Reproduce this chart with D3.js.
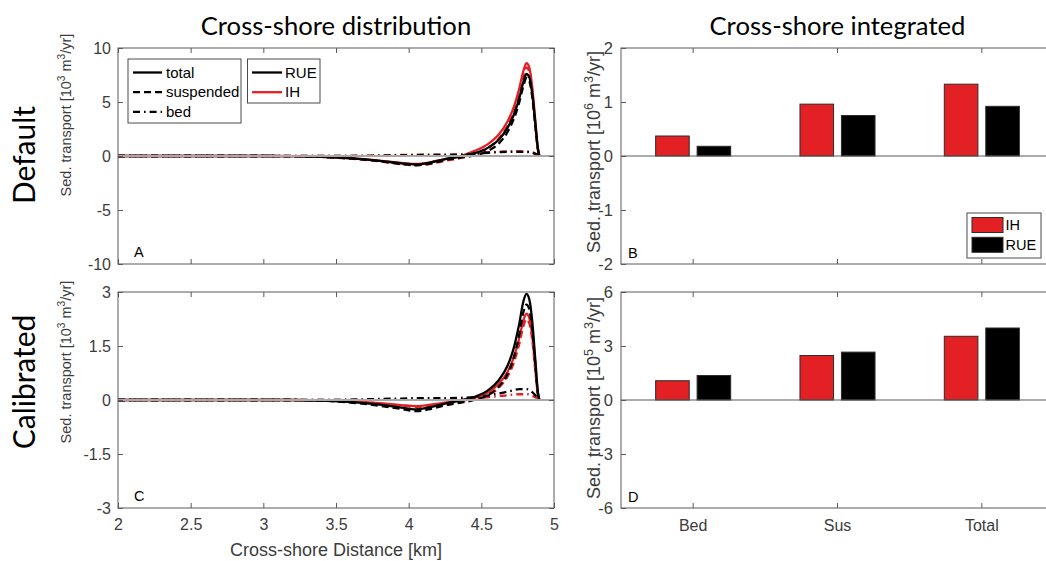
<!DOCTYPE html>
<html>
<head>
<meta charset="utf-8">
<script src="https://cdn.jsdelivr.net/npm/d3@7"></script>
<style>
  body { margin: 0; background: #fff; }
  svg { display: block; }
</style>
</head>
<body>
<svg id="fig" width="1046" height="561"></svg>
<script>
// ---- cross-shore profiles (10^3 m^3/yr per position) ----
const distanceKm = [2.0, 2.5, 3.0, 3.2, 3.4, 3.6, 3.8, 3.95, 4.05, 4.15, 4.25, 4.35, 4.45, 4.55, 4.62, 4.68, 4.72, 4.76, 4.79, 4.81, 4.83, 4.85, 4.87, 4.89, 4.9];

const defaultTotalRUE = [0, 0, 0, -0.01, -0.08, -0.22, -0.45, -0.68, -0.78, -0.6, -0.28, -0.05, 0.25, 0.8, 1.5, 2.6, 3.7, 5.3, 6.9, 7.6, 7.3, 5.8, 3.2, 0.6, 0];
const defaultSusRUE   = [0, 0, 0, -0.01, -0.08, -0.22, -0.48, -0.74, -0.86, -0.7, -0.38, -0.17, 0.05, 0.5, 1.15, 2.22, 3.32, 4.92, 6.52, 7.23, 6.95, 5.5, 3.0, 0.55, 0];
const defaultBedRUE   = [0, 0, 0, 0, 0, 0, 0.03, 0.06, 0.08, 0.1, 0.1, 0.12, 0.2, 0.3, 0.35, 0.38, 0.38, 0.38, 0.38, 0.37, 0.35, 0.3, 0.2, 0.05, 0];
const defaultTotalIH  = [0, 0, 0, -0.01, -0.08, -0.2, -0.42, -0.64, -0.74, -0.58, -0.3, -0.05, 0.45, 1.15, 2.0, 3.2, 4.4, 6.2, 7.9, 8.6, 8.2, 6.4, 3.5, 0.6, 0];
const defaultSusIH    = [0, 0, 0, -0.01, -0.09, -0.25, -0.5, -0.76, -0.85, -0.72, -0.45, -0.2, 0.2, 0.75, 1.6, 2.8, 4.0, 5.8, 7.5, 8.2, 7.8, 6.05, 3.25, 0.5, 0];
const defaultBedIH    = [0, 0, 0, 0, 0, 0.02, 0.06, 0.1, 0.12, 0.12, 0.13, 0.15, 0.24, 0.35, 0.4, 0.43, 0.44, 0.44, 0.43, 0.42, 0.4, 0.35, 0.25, 0.08, 0];

const calibTotalRUE = [0, 0, 0, 0, -0.02, -0.06, -0.13, -0.21, -0.26, -0.2, -0.1, -0.02, 0.08, 0.28, 0.55, 0.95, 1.4, 2.1, 2.75, 2.95, 2.8, 2.2, 1.2, 0.2, 0];
const calibSusRUE   = [0, 0, 0, 0, -0.02, -0.07, -0.16, -0.25, -0.31, -0.25, -0.15, -0.08, 0.0, 0.15, 0.37, 0.72, 1.13, 1.8, 2.45, 2.65, 2.52, 1.98, 1.06, 0.16, 0];
const calibBedRUE   = [0, 0, 0, 0, 0, 0.01, 0.03, 0.04, 0.05, 0.05, 0.05, 0.06, 0.08, 0.13, 0.18, 0.23, 0.27, 0.3, 0.3, 0.3, 0.28, 0.22, 0.14, 0.04, 0];
const calibTotalIH  = [0, 0, 0, 0, -0.01, -0.04, -0.09, -0.14, -0.17, -0.13, -0.07, -0.01, 0.06, 0.22, 0.45, 0.78, 1.15, 1.7, 2.22, 2.4, 2.28, 1.8, 0.95, 0.15, 0];
const calibSusIH    = [0, 0, 0, 0, -0.01, -0.04, -0.1, -0.16, -0.19, -0.16, -0.1, -0.05, 0.01, 0.14, 0.34, 0.65, 1.0, 1.54, 2.06, 2.24, 2.13, 1.68, 0.87, 0.13, 0];
const calibBedIH    = [0, 0, 0, 0, 0, 0, 0.01, 0.02, 0.02, 0.03, 0.03, 0.04, 0.05, 0.08, 0.11, 0.13, 0.15, 0.16, 0.16, 0.16, 0.15, 0.12, 0.08, 0.02, 0];

// ---- cross-shore integrated totals ----
const categories = ["Bed", "Sus", "Total"];
const models = ["IH", "RUE"];
const defaultIntIH  = [0.37, 0.96, 1.33];   // 10^6 m^3/yr
const defaultIntRUE = [0.18, 0.75, 0.92];
const calibIntIH    = [1.07, 2.47, 3.54];   // 10^5 m^3/yr
const calibIntRUE   = [1.36, 2.66, 4.0];

// ---- tick labels ----
const distanceTicks = [2, 2.5, 3, 3.5, 4, 4.5, 5];
const defaultProfileTicks = [-10, -5, 0, 5, 10];
const calibProfileTicks = [-3, -1.5, 0, 1.5, 3];
const defaultIntTicks = [-2, -1, 0, 1, 2];
const calibIntTicks = [-6, -3, 0, 3, 6];

const RED = "#e32124";
const BLACK = "#000000";
const AXIS = "#5a5a5a";
const TEXT = "#3c3c3c";
const SANS = "'Liberation Sans', Arial, sans-serif";
const TITLE_FONT = "Lato, 'Open Sans', sans-serif";

const svg = d3.select("#fig");

const L = { x0: 118, x1: 554 };
const R = { x0: 621, x1: 1054 };
const ROW1 = { y0: 48, y1: 264 };
const ROW2 = { y0: 292, y1: 508 };

function frame(g, x0, x1, y0, y1) {
  g.append("rect").attr("x", x0).attr("y", y0)
    .attr("width", x1 - x0).attr("height", y1 - y0)
    .attr("fill", "none").attr("stroke", AXIS).attr("stroke-width", 1);
}

function styleAxis(sel, showText, size) {
  sel.select(".domain").remove();
  sel.selectAll(".tick line").attr("stroke", AXIS);
  sel.selectAll(".tick text")
    .attr("fill", TEXT).attr("font-family", SANS).attr("font-size", size || 16)
    .style("display", showText ? null : "none");
}

function yTickFormat(v) { return String(v); }

function profilePanel(rowBox, domainY, yTicks, seriesList, letter, showXLabels) {
  const g = svg.append("g");
  const x = d3.scaleLinear().domain([2, 5]).range([L.x0, L.x1]);
  const y = d3.scaleLinear().domain(domainY).range([rowBox.y1, rowBox.y0]);

  const line = d3.line()
    .x((d, i) => x(distanceKm[i]))
    .y(d => y(d))
    .curve(d3.curveMonotoneX);

  seriesList.forEach(s => {
    g.append("path").datum(s.values)
      .attr("d", line)
      .attr("fill", "none")
      .attr("stroke", s.color)
      .attr("stroke-width", 2.3)
      .attr("stroke-dasharray", s.dash)
      .attr("stroke-linejoin", "round");
  });

  // zero reference line
  g.append("line")
    .attr("x1", x(2)).attr("x2", x(5))
    .attr("y1", y(0)).attr("y2", y(0))
    .attr("stroke", "#a8a8a8").attr("stroke-width", 1.8);

  const ax = (gen, tx, ty, show, size) => {
    const a = g.append("g").attr("transform", `translate(${tx},${ty})`).call(gen);
    styleAxis(a, show, size);
    return a;
  };
  ax(d3.axisLeft(y).tickValues(yTicks).tickFormat(yTickFormat).tickSizeInner(-5).tickSizeOuter(0).tickPadding(7), L.x0, 0, true);
  ax(d3.axisRight(y).tickValues(yTicks).tickSizeInner(-5).tickSizeOuter(0), L.x1, 0, false);
  ax(d3.axisBottom(x).tickValues(distanceTicks).tickFormat(d3.format("")).tickSizeInner(-5).tickSizeOuter(0).tickPadding(11), 0, rowBox.y1, showXLabels);
  ax(d3.axisTop(x).tickValues(distanceTicks).tickSizeInner(-5).tickSizeOuter(0), 0, rowBox.y0, false);
  frame(g, L.x0, L.x1, rowBox.y0, rowBox.y1);

  g.append("text").attr("x", L.x0 + 16).attr("y", rowBox.y1 - 7)
    .attr("font-family", SANS).attr("font-size", 14.5).attr("fill", "#000")
    .text(letter);
  return g;
}

function barPanel(rowBox, domainY, yTicks, ihVals, rueVals, letter, showCats) {
  const g = svg.append("g");
  const x = d3.scaleBand().domain(categories).range([R.x0, R.x1]).padding(0);
  const bw = x.bandwidth();
  const xs = d3.scaleBand().domain(models).range([bw * 0.24, bw * 0.76]).paddingInner(0.19);
  const y = d3.scaleLinear().domain(domainY).range([rowBox.y1, rowBox.y0]);

  const rows = categories.map((c, i) => ({ cat: c, IH: ihVals[i], RUE: rueVals[i] }));
  const colors = { IH: RED, RUE: BLACK };

  rows.forEach(r => {
    models.forEach(m => {
      const v = r[m];
      g.append("rect")
        .attr("x", x(r.cat) + xs(m))
        .attr("width", xs.bandwidth())
        .attr("y", y(Math.max(0, v)))
        .attr("height", Math.abs(y(v) - y(0)))
        .attr("fill", colors[m])
        .attr("stroke", "#2b2b2b").attr("stroke-width", 1);
    });
  });

  // baseline
  g.append("line").attr("x1", R.x0).attr("x2", R.x1)
    .attr("y1", y(0)).attr("y2", y(0))
    .attr("stroke", AXIS).attr("stroke-width", 1.2);

  const ax = (gen, tx, ty, show, size) => {
    const a = g.append("g").attr("transform", `translate(${tx},${ty})`).call(gen);
    styleAxis(a, show, size);
    return a;
  };
  ax(d3.axisLeft(y).tickValues(yTicks).tickFormat(yTickFormat).tickSizeInner(-5).tickSizeOuter(0).tickPadding(8), R.x0, 0, true, 16.5);
  ax(d3.axisBottom(x).tickSizeInner(-5).tickSizeOuter(0).tickPadding(12), 0, rowBox.y1, showCats, 16);
  ax(d3.axisTop(x).tickSizeInner(-5).tickSizeOuter(0), 0, rowBox.y0, false);
  frame(g, R.x0, R.x1, rowBox.y0, rowBox.y1);

  g.append("text").attr("x", R.x0 + 7).attr("y", rowBox.y1 - 6)
    .attr("font-family", SANS).attr("font-size", 14.5).attr("fill", "#000")
    .text(letter);
  return { g, y };
}

const dashSolid = null, dashSus = "7,4", dashBed = "7,4,1.6,4";

profilePanel(ROW1, [-10, 10], defaultProfileTicks, [
  { values: defaultBedIH, color: RED, dash: dashBed },
  { values: defaultSusIH, color: RED, dash: dashSus },
  { values: defaultTotalIH, color: RED, dash: dashSolid },
  { values: defaultBedRUE, color: BLACK, dash: dashBed },
  { values: defaultSusRUE, color: BLACK, dash: dashSus },
  { values: defaultTotalRUE, color: BLACK, dash: dashSolid }
], "A", false);

profilePanel(ROW2, [-3, 3], calibProfileTicks, [
  { values: calibBedIH, color: RED, dash: dashBed },
  { values: calibSusIH, color: RED, dash: dashSus },
  { values: calibTotalIH, color: RED, dash: dashSolid },
  { values: calibBedRUE, color: BLACK, dash: dashBed },
  { values: calibSusRUE, color: BLACK, dash: dashSus },
  { values: calibTotalRUE, color: BLACK, dash: dashSolid }
], "C", true);

barPanel(ROW1, [-2, 2], defaultIntTicks, defaultIntIH, defaultIntRUE, "B", false);
barPanel(ROW2, [-6, 6], calibIntTicks, calibIntIH, calibIntRUE, "D", true);

// ---- legends in panel A ----
function legendBox(x, y, w, h) {
  svg.append("rect").attr("x", x).attr("y", y).attr("width", w).attr("height", h)
    .attr("fill", "#fff").attr("stroke", "#4a4a4a").attr("stroke-width", 1);
}
const styleRows = [
  { label: "total", dash: dashSolid },
  { label: "suspended", dash: dashSus },
  { label: "bed", dash: dashBed }
];
legendBox(128, 59, 113, 64);
styleRows.forEach((r, i) => {
  const cy = 72.5 + i * 19.7;
  svg.append("line").attr("x1", 133).attr("x2", 162).attr("y1", cy).attr("y2", cy)
    .attr("stroke", "#000").attr("stroke-width", 2.3).attr("stroke-dasharray", r.dash);
  svg.append("text").attr("x", 166).attr("y", cy).attr("dy", "0.35em")
    .attr("font-family", SANS).attr("font-size", 15).attr("fill", "#000").text(r.label);
});
const modelRows = [{ label: "RUE", color: BLACK }, { label: "IH", color: RED }];
legendBox(247.5, 59, 72.5, 44);
modelRows.forEach((r, i) => {
  const cy = 72.5 + i * 19.7;
  svg.append("line").attr("x1", 252).attr("x2", 282).attr("y1", cy).attr("y2", cy)
    .attr("stroke", r.color).attr("stroke-width", 2.3);
  svg.append("text").attr("x", 285).attr("y", cy).attr("dy", "0.35em")
    .attr("font-family", SANS).attr("font-size", 15).attr("fill", "#000").text(r.label);
});

// ---- legend in panel B ----
legendBox(967, 213, 74, 45);
[{ label: "IH", color: RED }, { label: "RUE", color: BLACK }].forEach((r, i) => {
  const top = 217.5 + i * 19.8;
  svg.append("rect").attr("x", 972).attr("y", top).attr("width", 31).attr("height", 15)
    .attr("fill", r.color).attr("stroke", "#2b2b2b").attr("stroke-width", 1);
  svg.append("text").attr("x", 1005.5).attr("y", top + 7.5).attr("dy", "0.36em")
    .attr("font-family", SANS).attr("font-size", 14.5).attr("fill", "#000").text(r.label);
});

// ---- axis labels ----
function yLabel(cx, cy, size, exponent) {
  const t = svg.append("text")
    .attr("transform", `translate(${cx},${cy}) rotate(-90)`)
    .attr("text-anchor", "middle")
    .attr("font-family", SANS).attr("font-size", size).attr("fill", TEXT);
  t.append("tspan").text("Sed. transport [10");
  t.append("tspan").attr("font-size", size * 0.7).attr("dy", -size * 0.4).text(exponent);
  t.append("tspan").attr("dy", size * 0.4).text(" m");
  t.append("tspan").attr("font-size", size * 0.7).attr("dy", -size * 0.4).text("3");
  t.append("tspan").attr("dy", size * 0.4).text("/yr]");
}
yLabel(71, 115, 14.5, "3");
yLabel(71, 362, 14.5, "3");
yLabel(600, 152, 18, "6");
yLabel(600, 398, 18, "5");

svg.append("text").attr("x", (L.x0 + L.x1) / 2).attr("y", 556)
  .attr("text-anchor", "middle").attr("font-family", SANS).attr("font-size", 18)
  .attr("fill", TEXT).text("Cross-shore Distance [km]");

// ---- titles and row labels ----
function fitText(sel, target) {
  const w = sel.node().getComputedTextLength();
  const fs = parseFloat(sel.attr("font-size"));
  sel.attr("font-size", fs * target / w);
}
const t1 = svg.append("text").attr("x", (L.x0 + L.x1) / 2).attr("y", 35)
  .attr("text-anchor", "middle").attr("font-family", TITLE_FONT).attr("font-size", 26)
  .attr("fill", "#000").text("Cross-shore distribution");
const t2 = svg.append("text").attr("x", (R.x0 + R.x1) / 2).attr("y", 35)
  .attr("text-anchor", "middle").attr("font-family", TITLE_FONT).attr("font-size", 26)
  .attr("fill", "#000").text("Cross-shore integrated");
fitText(t2, 256);
t1.attr("font-size", t2.attr("font-size"));

const r1 = svg.append("text").attr("transform", "translate(35,155) rotate(-90)")
  .attr("text-anchor", "middle").attr("font-family", TITLE_FONT).attr("font-size", 30)
  .attr("fill", "#000").text("Default");
fitText(r1, 98);
svg.append("text").attr("transform", "translate(35,382) rotate(-90)")
  .attr("text-anchor", "middle").attr("font-family", TITLE_FONT).attr("font-size", r1.attr("font-size"))
  .attr("fill", "#000").text("Calibrated");
</script>
</body>
</html>
